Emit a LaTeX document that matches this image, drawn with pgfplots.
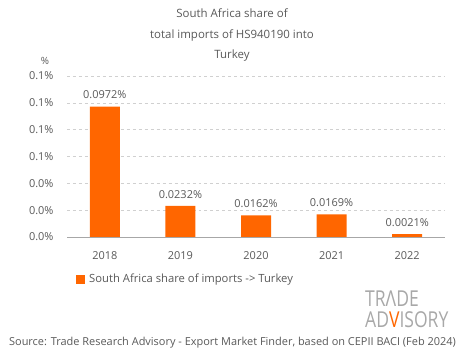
\documentclass[border=0pt]{standalone}
\usepackage{fontspec}
\setmainfont{Open Sans}
\usepackage{pgfplots}
\pgfplotsset{compat=1.18}
\definecolor{barc}{HTML}{FF6600}
\definecolor{txt}{HTML}{595959}
\definecolor{gridc}{HTML}{D0D0D0}
\definecolor{logo}{HTML}{A8A8A8}
\begin{document}
\begin{tikzpicture}
\useasboundingbox (-67bp,-122bp) rectangle (398bp,237bp);
\begin{axis}[
  at={(0,0)}, anchor=south west,
  scale only axis, width=378bp, height=161bp,
  xmin=-0.5, xmax=4.5, ymin=0, ymax=0.12,
  xtick={0,1,2,3,4}, xticklabels={2018,2019,2020,2021,2022},
  ytick={0,0.02,0.04,0.06,0.08,0.10,0.12},
  /pgf/number format/assume math mode=true,
  yticklabel={\pgfmathprintnumber[fixed,precision=1,zerofill]{\tick}\%},
  ymajorgrids, grid style={dashed, gridc, line width=0.6pt},
  extra y ticks={0}, extra y tick labels={},
  extra y tick style={grid style={solid, gridc!80!black, line width=0.8pt}},
  axis line style={draw=none}, major tick length=0pt,
  tick label style={font=\fontsize{11}{12}\selectfont, text=txt},
  xticklabel style={yshift=-11bp},
  yticklabel style={xshift=-10bp},
  ybar, bar width=30bp,
  nodes near coords={\pgfmathprintnumber[fixed,precision=4]{\pgfplotspointmeta}\%},
  nodes near coords style={font=\fontsize{11}{12}\selectfont, text=txt, yshift=4bp},
  legend style={at={(axis description cs:0,0)}, anchor=west, xshift=9bp, yshift=-42bp,
    draw=none, fill=none, inner sep=0pt, font=\fontsize{11.3}{13}\selectfont, text=txt},
  legend cell align=left,
  legend image code/.code={\fill[barc] (0bp,-4.5bp) rectangle (9bp,4.5bp); \path (11bp,0bp);},
]
\addplot[fill=barc, draw=none] coordinates {(0,0.0972) (1,0.0232) (2,0.0162) (3,0.0169) (4,0.0021)};
\addlegendentry{South Africa share of imports -> Turkey}
\end{axis}
\node[text=txt, align=center, font=\fontsize{11.5}{21}\selectfont] at (165bp,202bp)
  {South Africa share of\\total imports of HS940190 into\\Turkey};
\node[text=txt, font=\fontsize{10}{10}\selectfont] at (-22bp,176bp) {\%};
\node[text=txt, font=\fontsize{11}{12}\selectfont] at (165.5bp,-106bp)
  {Source: Trade Research Advisory - Export Market Finder, based on CEPII BACI (Feb 2024)};
\node[anchor=west, inner sep=0pt, text=logo, align=left, font=\fontsize{22}{21}\selectfont] at (298bp,-72.5bp)
  {\scalebox{0.8}[1]{TR\textcolor{logo}{Λ}DE}\\\scalebox{0.8}[1]{AD\textcolor{barc}{V}ISORY}};
\end{tikzpicture}
\end{document}
